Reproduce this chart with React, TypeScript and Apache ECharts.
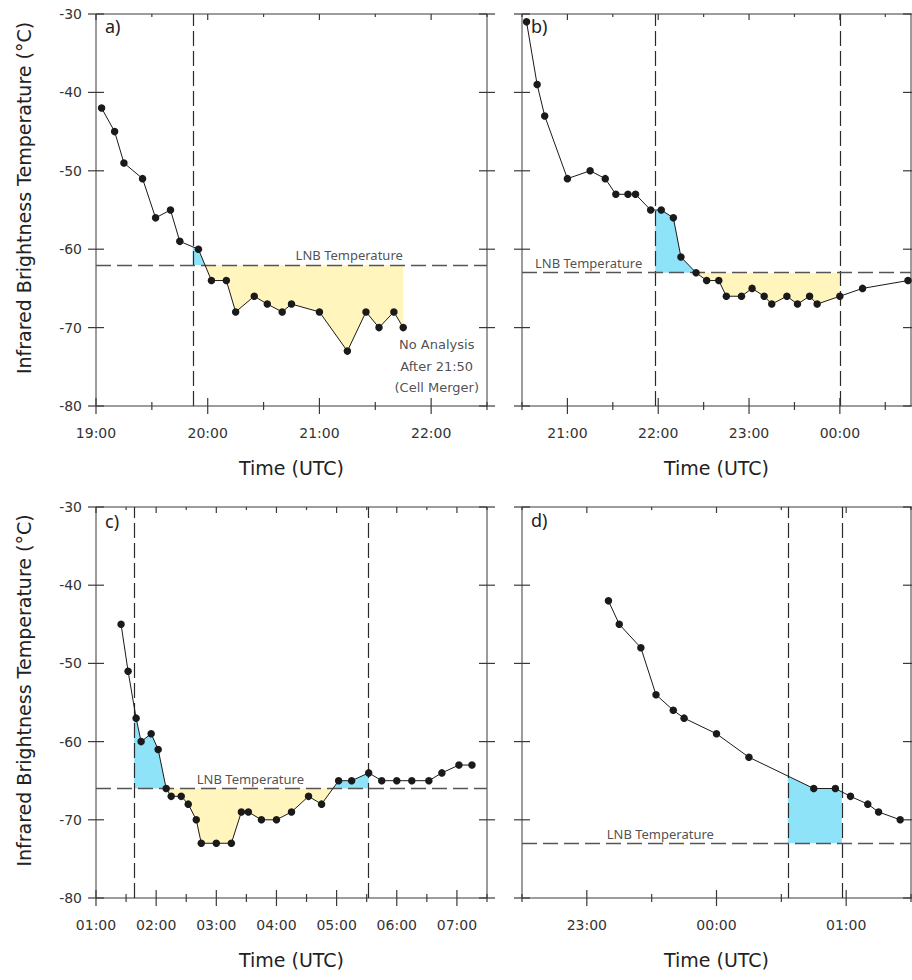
import React, { useEffect, useRef } from "react";
import * as echarts from "echarts";

// ---------- Panel a ----------
const timesA = ["19:03", "19:10", "19:15", "19:25", "19:32", "19:40", "19:45", "19:55", "20:02", "20:10", "20:15", "20:25", "20:32", "20:40", "20:45", "21:00", "21:15", "21:25", "21:32", "21:40", "21:45"];
const tempsA = [-42, -45, -49, -51, -56, -55, -59, -60, -64, -64, -68, -66, -67, -68, -67, -68, -73, -68, -70, -68, -70];
const lnbA = -62;
const vlinesA = ["19:52"];
const shadeA = ["19:52", "21:45"];
const rangeA = ["19:00", "22:30"];

// ---------- Panel b ----------
const timesB = ["20:33", "20:40", "20:45", "21:00", "21:15", "21:25", "21:32", "21:40", "21:45", "21:55", "22:02", "22:10", "22:15", "22:25", "22:32", "22:40", "22:45", "22:55", "23:02", "23:10", "23:15", "23:25", "23:32", "23:40", "23:45", "00:00", "00:15", "00:45"];
const tempsB = [-31, -39, -43, -51, -50, -51, -53, -53, -53, -55, -55, -56, -61, -63, -64, -64, -66, -66, -65, -66, -67, -66, -67, -66, -67, -66, -65, -64];
const lnbB = -63;
const vlinesB = ["21:58", "00:00"];
const shadeB = ["21:58", "00:00"];
const rangeB = ["20:30", "00:47"];

// ---------- Panel c ----------
const timesC = ["01:25", "01:32", "01:40", "01:45", "01:55", "02:02", "02:10", "02:15", "02:25", "02:32", "02:40", "02:45", "03:00", "03:15", "03:25", "03:32", "03:45", "04:00", "04:15", "04:32", "04:45", "05:02", "05:15", "05:32", "05:45", "06:00", "06:15", "06:32", "06:45", "07:02", "07:15"];
const tempsC = [-45, -51, -57, -60, -59, -61, -66, -67, -67, -68, -70, -73, -73, -73, -69, -69, -70, -70, -69, -67, -68, -65, -65, -64, -65, -65, -65, -65, -64, -63, -63];
const lnbC = -66;
const vlinesC = ["01:38", "05:32"];
const shadeC = ["01:38", "05:32"];
const rangeC = ["01:00", "07:30"];

// ---------- Panel d ----------
const timesD = ["23:10", "23:15", "23:25", "23:32", "23:40", "23:45", "00:00", "00:15", "00:45", "00:55", "01:02", "01:10", "01:15", "01:25"];
const tempsD = [-42, -45, -48, -54, -56, -57, -59, -62, -66, -66, -67, -68, -69, -70];
const lnbD = -73;
const vlinesD = ["00:33", "00:58"];
const shadeD = ["00:33", "00:58"];
const rangeD = ["22:30", "01:30"];

// ---------- Axes ----------
const yMin = -80;
const yMax = -30;
const yStep = 10;
const panelLetters = ["a)", "b)", "c)", "d)"];
const lnbText = "LNB Temperature";
const noteText = "No Analysis\nAfter 21:50\n(Cell Merger)";
const yTitle = "Infrared Brightness Temperature (°C)";
const xTitle = "Time (UTC)";

// ---------- styling / layout ----------
const BLUE = "#8fe3f8";
const YELLOW = "#fff5bd";
const AXIS = "#3a3a3a";
const TICK = "#3a3a3a";
const LAYOUT = [
  { left: 96, top: 14, width: 391, height: 392, lnbLabelAt: "21:16", letterY: 28, showY: true },
  { left: 522, top: 14, width: 389, height: 392, lnbLabelAt: "21:14", letterY: 28, showY: false },
  { left: 96, top: 507, width: 391, height: 391, lnbLabelAt: "03:34", letterY: 523, showY: true },
  { left: 522, top: 507, width: 389, height: 391, lnbLabelAt: "23:34", letterY: 522, showY: false },
];

function clock(s: string): number {
  const [h, m] = s.split(":").map(Number);
  return h * 60 + m;
}
function toMin(s: string, start: number): number {
  let v = clock(s);
  if (v < start - 180) v += 1440;
  return v;
}
const pad = (n: number) => (n < 10 ? "0" + n : "" + n);

function interp(ts: number[], vs: number[], t: number): number {
  for (let i = 0; i < ts.length - 1; i++) {
    if (t >= ts[i] && t <= ts[i + 1]) {
      const f = (t - ts[i]) / (ts[i + 1] - ts[i]);
      return vs[i] + f * (vs[i + 1] - vs[i]);
    }
  }
  return t < ts[0] ? vs[0] : vs[vs.length - 1];
}

type Poly = { above: boolean; pts: number[][] };
function shadePolys(ts: number[], vs: number[], t0: number, t1: number, lnb: number): Poly[] {
  const seq: number[][] = [[t0, interp(ts, vs, t0)]];
  ts.forEach((t, i) => {
    if (t > t0 && t < t1) seq.push([t, vs[i]]);
  });
  seq.push([t1, interp(ts, vs, t1)]);
  const pts: number[][] = [seq[0]];
  for (let i = 1; i < seq.length; i++) {
    const a = seq[i - 1];
    const b = seq[i];
    const da = a[1] - lnb;
    const db = b[1] - lnb;
    if (da * db < 0) {
      const f = da / (da - db);
      pts.push([a[0] + f * (b[0] - a[0]), lnb]);
    }
    pts.push(b);
  }
  const polys: Poly[] = [];
  let cur: Poly | null = null;
  for (let i = 1; i < pts.length; i++) {
    const a = pts[i - 1];
    const b = pts[i];
    const mid = (a[1] + b[1]) / 2 - lnb;
    if (Math.abs(mid) < 1e-9) {
      cur = null;
      continue;
    }
    const above = mid > 0;
    if (!cur || cur.above !== above) {
      cur = { above, pts: [a] };
      polys.push(cur);
    }
    cur.pts.push(b);
  }
  polys.forEach((p) => {
    const f = p.pts[0];
    const l = p.pts[p.pts.length - 1];
    p.pts.push([l[0], lnb], [f[0], lnb]);
  });
  return polys;
}

const PANELS = [
  { times: timesA, temps: tempsA, lnb: lnbA, vlines: vlinesA, shade: shadeA, range: rangeA, note: true },
  { times: timesB, temps: tempsB, lnb: lnbB, vlines: vlinesB, shade: shadeB, range: rangeB, note: false },
  { times: timesC, temps: tempsC, lnb: lnbC, vlines: vlinesC, shade: shadeC, range: rangeC, note: false },
  { times: timesD, temps: tempsD, lnb: lnbD, vlines: vlinesD, shade: shadeD, range: rangeD, note: false },
];

const yTicks: number[] = [];
for (let v = yMin; v <= yMax; v += yStep) yTicks.push(v);

function panelTicks(p: any) {
  const start = clock(p.range[0]);
  const xmin = start;
  const xmax = toMin(p.range[1], start);
  const hours: number[] = [];
  for (let v = Math.ceil(xmin / 60) * 60; v <= xmax; v += 60) hours.push(v);
  const halves: number[] = [];
  for (let v = Math.ceil(xmin / 30) * 30; v <= xmax; v += 30) if (v % 60 !== 0) halves.push(v);
  return { start, xmin, xmax, hours, halves };
}

function buildOption() {
  const grid: any[] = [];
  const xAxis: any[] = [];
  const yAxis: any[] = [];
  const series: any[] = [];
  const graphic: any[] = [];

  PANELS.forEach((p, i) => {
    const L = LAYOUT[i];
    const { start, xmin, xmax, hours, halves } = panelTicks(p);

    grid.push({
      left: L.left,
      top: L.top,
      width: L.width,
      height: L.height,
      show: true,
      borderColor: AXIS,
      borderWidth: 1,
      backgroundColor: "transparent",
    });

    xAxis.push({
      type: "value",
      gridIndex: i,
      min: xmin,
      max: xmax,
      position: "bottom",
      splitLine: { show: false },
      axisLine: { show: false, onZero: false },
      axisTick: { show: false },
      axisLabel: {
        customValues: hours,
        formatter: (v: number) => pad(Math.floor(v / 60) % 24) + ":00",
        margin: 20,
        fontFamily: "DejaVu Sans",
        fontSize: 14,
        color: "#333",
        showMinLabel: true,
        showMaxLabel: true,
      },
    });
    yAxis.push({
      type: "value",
      gridIndex: i,
      min: yMin,
      max: yMax,
      interval: yStep,
      position: "left",
      splitLine: { show: false },
      axisLine: { show: false, onZero: false },
      axisTick: { show: false },
      axisLabel: { show: L.showY, margin: 14, fontFamily: "DejaVu Sans", fontSize: 14, color: "#333" },
    });

    const ts = p.times.map((t: string) => toMin(t, start));
    const vs = p.temps;
    const polys = shadePolys(ts, vs, toMin(p.shade[0], start), toMin(p.shade[1], start), p.lnb);

    series.push({
      type: "custom",
      xAxisIndex: i,
      yAxisIndex: i,
      silent: true,
      z: 1,
      data: polys.map((q) => q.pts[0]),
      renderItem: (params: any, api: any) => {
        const q = polys[params.dataIndex];
        return {
          type: "polygon",
          shape: { points: q.pts.map((pt) => api.coord(pt)) },
          style: { fill: q.above ? BLUE : YELLOW },
        };
      },
    });

    // tick marks drawn through the scale as thin filled bars
    const tickData: any[] = [];
    hours.forEach((h) => {
      tickData.push({ v: [h, yMin], dx: 0, len: 8 });
      tickData.push({ v: [h, yMax], dx: 0, len: 6, top: true });
    });
    halves.forEach((h) => {
      tickData.push({ v: [h, yMin], dx: 0, len: 4 });
      tickData.push({ v: [h, yMax], dx: 0, len: 3, top: true });
    });
    yTicks.forEach((v) => {
      tickData.push({ v: [xmin, v], dx: 1, len: 8 });
      tickData.push({ v: [xmax, v], dx: 1, len: 8 });
    });
    series.push({
      type: "custom",
      xAxisIndex: i,
      yAxisIndex: i,
      silent: true,
      clip: false,
      z: 7,
      data: tickData.map((t) => t.v),
      renderItem: (params: any, api: any) => {
        const t = tickData[params.dataIndex];
        const c = api.coord(t.v);
        const w = 1.2;
        let pts: number[][];
        if (t.dx === 0) {
          const y1 = t.top ? c[1] : c[1] - t.len;
          const y2 = c[1] + t.len;
          pts = [[c[0] - w / 2, y1], [c[0] + w / 2, y1], [c[0] + w / 2, y2], [c[0] - w / 2, y2]];
        } else {
          pts = [[c[0] - t.len, c[1] - w / 2], [c[0] + t.len, c[1] - w / 2], [c[0] + t.len, c[1] + w / 2], [c[0] - t.len, c[1] + w / 2]];
        }
        return { type: "polygon", shape: { points: pts }, style: { fill: TICK } };
      },
    });

    series.push({
      type: "line",
      xAxisIndex: i,
      yAxisIndex: i,
      z: 5,
      silent: true,
      data: ts.map((t: number, k: number) => [t, vs[k]]),
      symbol: "circle",
      symbolSize: 7.5,
      itemStyle: { color: "#1a1a1a" },
      lineStyle: { color: "#1a1a1a", width: 1 },
      markLine: {
        silent: true,
        symbol: ["none", "none"],
        label: { show: false },
        data: [
          ...p.vlines.map((v: string) => ({
            xAxis: toMin(v, start),
            lineStyle: { color: "#2a2a2a", width: 1.2, type: [15, 5] },
          })),
          { yAxis: p.lnb, lineStyle: { color: "#555", width: 1.4, type: [15, 6] } },
        ],
      },
    });

    const labelData: any[] = [
      {
        value: [toMin(L.lnbLabelAt, start), p.lnb],
        label: {
          show: true,
          position: "top",
          distance: 3,
          formatter: lnbText,
          fontFamily: "Noto Sans",
          fontSize: 13,
          color: "#222",
        },
      },
    ];
    if (p.note) {
      labelData.push({
        value: [toMin("22:03", start), -74.9],
        label: {
          show: true,
          position: "inside",
          formatter: noteText,
          fontFamily: "DejaVu Sans",
          fontSize: 13,
          lineHeight: 21.5,
          align: "center",
          verticalAlign: "middle",
          color: "#222",
        },
      });
    }
    series.push({
      type: "scatter",
      xAxisIndex: i,
      yAxisIndex: i,
      z: 6,
      silent: true,
      symbolSize: 0,
      itemStyle: { color: "transparent" },
      data: labelData,
    });

    graphic.push({
      type: "text",
      left: L.left + 9,
      top: L.letterY - 11,
      style: { text: panelLetters[i], fontFamily: "Noto Sans", fontSize: 18, fill: "#222" },
    });
    graphic.push({
      type: "text",
      x: L.left + L.width / 2,
      y: L.top + L.height + 62,
      style: {
        text: xTitle,
        fontFamily: "DejaVu Sans",
        fontSize: 19,
        fill: "#222",
        textAlign: "center",
        textVerticalAlign: "middle",
      },
    });
    if (L.showY) {
      graphic.push({
        type: "text",
        x: 24,
        y: L.top + L.height / 2 - 12,
        rotation: Math.PI / 2,
        style: {
          text: yTitle,
          fontFamily: "DejaVu Sans",
          fontSize: 19,
          fill: "#222",
          textAlign: "center",
          textVerticalAlign: "middle",
        },
      });
    }
  });

  return {
    animation: false,
    backgroundColor: "#ffffff",
    grid,
    xAxis,
    yAxis,
    series,
    graphic,
  };
}

export default function App() {
  const ref = useRef<HTMLDivElement>(null);
  useEffect(() => {
    if (!ref.current) return;
    const chart = echarts.init(ref.current, null, { renderer: "svg" });
    chart.setOption(buildOption() as any);
    return () => chart.dispose();
  }, []);
  return (
    <div
      ref={ref}
      style={{ position: "absolute", left: 0, top: 0, width: 912, height: 980, background: "#fff" }}
    />
  );
}
